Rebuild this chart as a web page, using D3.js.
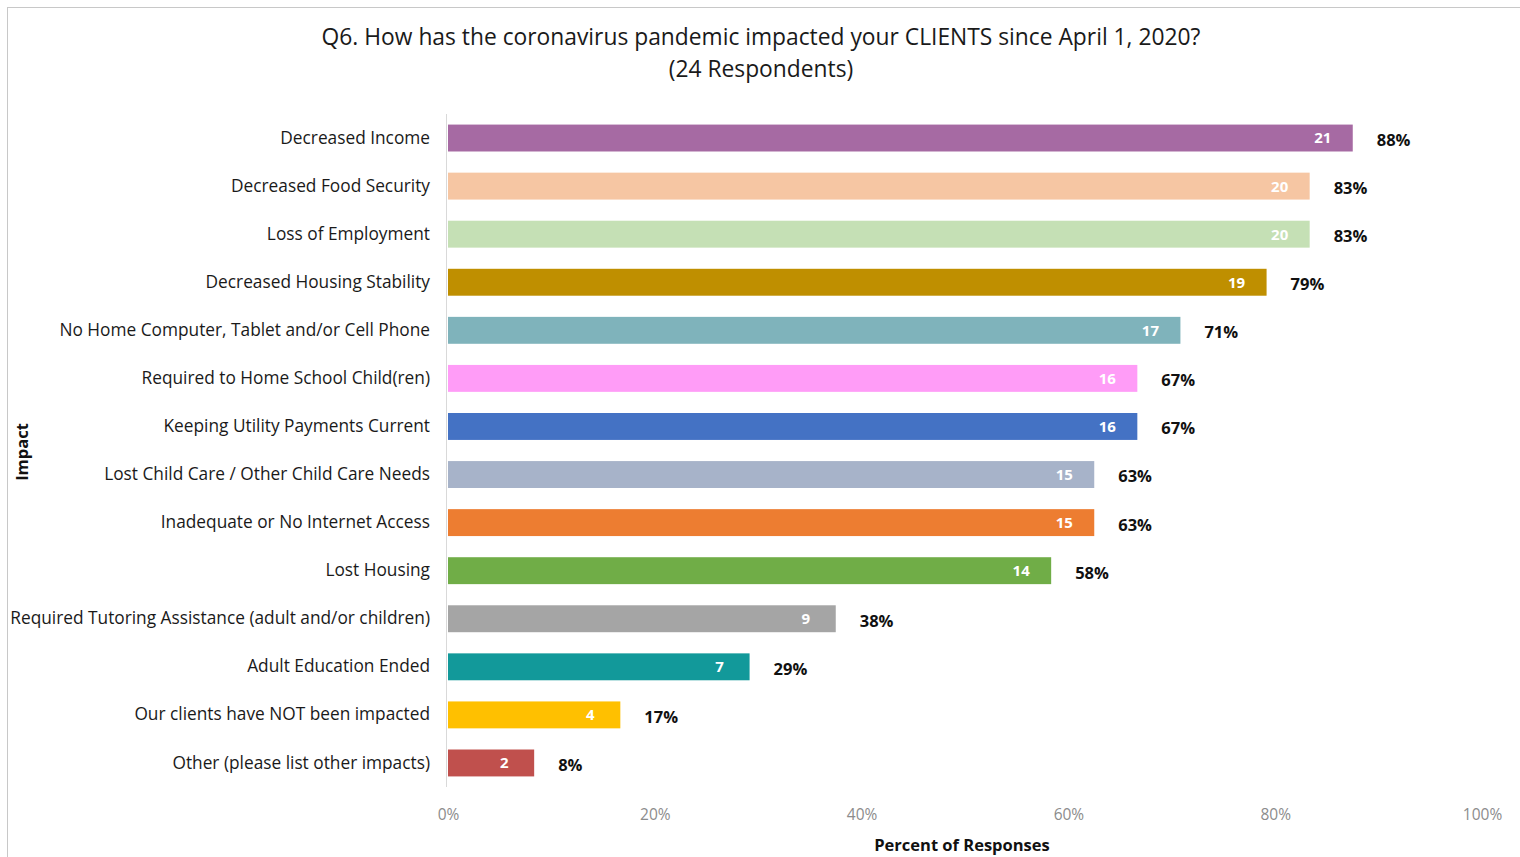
<!DOCTYPE html>
<html>
<head>
<meta charset="utf-8">
<script src="https://cdn.jsdelivr.net/npm/d3@7/dist/d3.min.js"></script>
<style>
  html, body { margin: 0; padding: 0; background: #fff; }
  svg { display: block; font-family: "Open Sans", "Noto Sans", sans-serif; }
</style>
</head>
<body>
<svg id="chart" width="1520" height="857"></svg>
<script>
// Survey responses: impact categories, respondent counts and percentages
const categories = [
  "Decreased Income",
  "Decreased Food Security",
  "Loss of Employment",
  "Decreased Housing Stability",
  "No Home Computer, Tablet and/or Cell Phone",
  "Required to Home School Child(ren)",
  "Keeping Utility Payments Current",
  "Lost Child Care / Other Child Care Needs",
  "Inadequate or No Internet Access",
  "Lost Housing",
  "Required Tutoring Assistance (adult and/or children)",
  "Adult Education Ended",
  "Our clients have NOT been impacted",
  "Other (please list other impacts)"
];
const counts = [21, 20, 20, 19, 17, 16, 16, 15, 15, 14, 9, 7, 4, 2];
const percents = [88, 83, 83, 79, 71, 67, 67, 63, 63, 58, 38, 29, 17, 8];
const barColors = [
  "#a66aa3", "#f6c6a3", "#c5e0b5", "#bf8f00", "#7fb3bb", "#ff9cf7", "#4472c4",
  "#a7b3c9", "#ed7d31", "#70ad47", "#a5a5a5", "#12999a", "#ffc000", "#c0504d"
];
const xTicks = [0, 20, 40, 60, 80, 100];
const respondents = 24;

const svg = d3.select("#chart");
const W = 1520, H = 857;

// outer frame
svg.append("rect").attr("x", 7.5).attr("y", 7.5).attr("width", W + 10).attr("height", H + 10)
  .attr("fill", "none").attr("stroke", "#c8c8c8").attr("stroke-width", 1);

const x = d3.scaleLinear().domain([0, 100]).range([448, 1482]);
const y = d3.scaleBand().domain(categories).range([114, 787]).paddingInner(0.44).paddingOuter(0.22);

// title
svg.append("text").attr("x", 761).attr("y", 45).attr("text-anchor", "middle")
  .attr("font-size", 22.8).attr("fill", "#1a1a1a")
  .text("Q6. How has the coronavirus pandemic impacted your CLIENTS since April 1, 2020?");
svg.append("text").attr("x", 761).attr("y", 77).attr("text-anchor", "middle")
  .attr("font-size", 22.8).attr("fill", "#1a1a1a")
  .text(`(${respondents} Respondents)`);

const rows = categories.map((c, i) => ({ cat: c, count: counts[i], pct: percents[i], color: barColors[i] }));

// bars
svg.append("g").selectAll("rect").data(rows).join("rect")
  .attr("x", x(0))
  .attr("y", d => y(d.cat))
  .attr("width", d => x(d.count / respondents * 100) - x(0))
  .attr("height", y.bandwidth())
  .attr("fill", d => d.color);

// vertical category axis line
svg.append("line").attr("x1", x(0) - 1.5).attr("x2", x(0) - 1.5).attr("y1", 114).attr("y2", 787)
  .attr("stroke", "#d9d9d9").attr("stroke-width", 1);

// category labels
const yAxis = d3.axisLeft(y).tickSize(0).tickPadding(18);
const gy = svg.append("g").attr("transform", `translate(${x(0)},0)`).call(yAxis);
gy.select(".domain").remove();
gy.selectAll("text").attr("font-size", 17.3).attr("fill", "#1a1a1a")
  .attr("font-family", "'Open Sans', sans-serif");

// count labels inside bars
svg.append("g").selectAll("text").data(rows).join("text")
  .attr("x", d => x(d.count / respondents * 100) - 30)
  .attr("y", d => y(d.cat) + y.bandwidth() / 2)
  .attr("dy", "0.36em").attr("text-anchor", "middle")
  .attr("font-size", 15).attr("font-weight", "bold").attr("fill", "#ffffff")
  .text(d => d.count);

// percentage labels after bars
svg.append("g").selectAll("text").data(rows).join("text")
  .attr("x", d => x(d.count / respondents * 100) + 24)
  .attr("y", d => y(d.cat) + y.bandwidth() / 2 + 2)
  .attr("dy", "0.36em").attr("text-anchor", "start")
  .attr("font-size", 16.5).attr("font-weight", "bold").attr("fill", "#111")
  .text(d => d.pct + "%");

// x axis tick labels
const xAxis = d3.axisBottom(x).tickValues(xTicks).tickFormat(d => d + "%").tickSize(0).tickPadding(0);
const gx = svg.append("g").attr("transform", "translate(0,809)").call(xAxis);
gx.select(".domain").remove();
gx.selectAll("text").attr("font-size", 15.5).attr("fill", "#8c8c8c")
  .attr("font-family", "'Open Sans', sans-serif");

// axis titles
svg.append("text").attr("x", 962).attr("y", 851).attr("text-anchor", "middle")
  .attr("font-size", 16.5).attr("font-weight", "bold").attr("fill", "#111")
  .text("Percent of Responses");
svg.append("text").attr("transform", "translate(28,452) rotate(-90)").attr("text-anchor", "middle")
  .attr("font-size", 16.5).attr("font-weight", "bold").attr("fill", "#111")
  .text("Impact");
</script>
</body>
</html>
